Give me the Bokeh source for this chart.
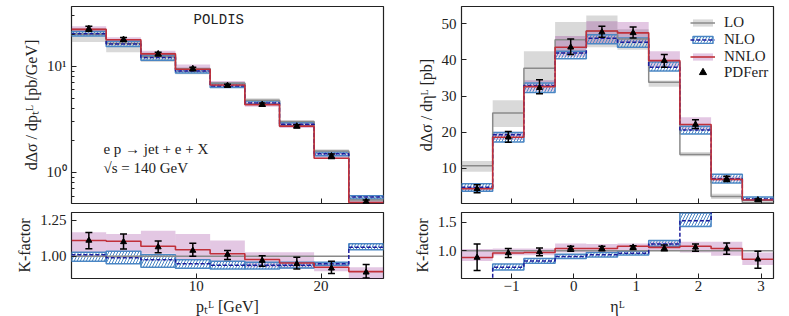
from bokeh.plotting import figure
from bokeh.layouts import row, column
from bokeh.models import (ColumnDataSource, FixedTicker, Whisker, TeeHead, Label,
                          Legend, LegendItem, Range1d, NumeralTickFormatter,
                          CustomJSTickFormatter)
from bokeh.embed import file_html
from bokeh.resources import INLINE

SERIF = "Liberation Serif"
MONO = "Liberation Mono"
INK = "#222222"
C_LO = "#8a8a8a"
C_NLO = "#4a86c4"
C_NLO_LINE = "#1c1c9c"
C_NNLO = "#c0303a"

# ---------------- pT_L distribution (left) ----------------
pt_edges = [0.0, 2.78, 5.56, 8.33, 11.11, 13.89, 16.67, 19.44, 22.22, 25.0]
pt_lo = [20.1, 16.4, 12.4, 9.5, 6.95, 4.8, 3.02, 1.59, 0.55]
pt_lo_dn = [16.9, 13.6, 11.0, 8.4, 6.3, 4.6, 2.88, 1.52, 0.52]
pt_lo_up = [23.0, 18.0, 13.5, 9.8, 7.0, 5.0, 3.1, 1.65, 0.58]
pt_nlo = [20.3, 16.2, 12.1, 9.04, 6.54, 4.52, 2.85, 1.5, 0.586]
pt_nlo_dn = [19.3, 15.4, 11.4, 8.66, 6.3, 4.4, 2.75, 1.44, 0.561]
pt_nlo_up = [21.3, 17.2, 12.7, 9.37, 6.87, 4.72, 2.95, 1.56, 0.604]
pt_nnlo = [22.3, 17.8, 13.1, 9.37, 6.67, 4.36, 2.73, 1.36, 0.522]
pt_nnlo_dn = [21.0, 16.8, 12.3, 8.86, 6.27, 4.17, 2.63, 1.35, 0.48]
pt_nnlo_up = [23.8, 18.8, 14.0, 10.4, 7.26, 4.61, 2.91, 1.53, 0.541]
pt_pdf = [22.6, 17.9, 13.1, 9.5, 6.58, 4.36, 2.73, 1.43, 0.53]
pt_pdf_dn = [21.4, 17.1, 12.5, 9.1, 6.4, 4.2, 2.63, 1.35, 0.51]
pt_pdf_up = [23.9, 18.7, 13.6, 9.8, 6.78, 4.52, 2.82, 1.49, 0.55]

# K-factors (pT_L)
pt_k_lo = [1.0, 1.0, 1.0, 1.0, 1.0, 1.0, 1.0, 1.0, 1.0]
pt_k_nlo = [1.01, 0.99, 0.975, 0.947, 0.937, 0.937, 0.937, 0.947, 1.063]
pt_k_nlo_dn = [0.965, 0.947, 0.923, 0.916, 0.912, 0.912, 0.919, 0.937, 1.045]
pt_k_nlo_up = [1.028, 1.035, 1.01, 0.975, 0.965, 0.958, 0.958, 0.958, 1.087]
pt_k_nnlo = [1.11, 1.105, 1.07, 1.045, 1.017, 0.977, 0.953, 0.923, 0.893]
pt_k_nnlo_dn = [1.028, 1.03, 1.017, 0.98, 0.958, 0.923, 0.912, 0.895, 0.80]
pt_k_nnlo_up = [1.168, 1.155, 1.178, 1.155, 1.11, 1.028, 1.028, 0.955, 0.923]
pt_k_pdf = [1.11, 1.10, 1.064, 1.04, 1.012, 0.97, 0.947, 0.916, 0.888]
pt_k_pdf_dn = [1.052, 1.05, 1.024, 1.0, 0.977, 0.93, 0.912, 0.88, 0.849]
pt_k_pdf_up = [1.165, 1.155, 1.106, 1.09, 1.04, 1.004, 0.993, 0.965, 0.942]

# ---------------- eta_L distribution (right) ----------------
eta_edges = [-1.8, -1.3, -0.8, -0.3, 0.2, 0.7, 1.2, 1.7, 2.2, 2.7, 3.2]
eta_lo = [10.7, 25.3, 37.7, 45.6, 48.0, 45.8, 33.8, 13.8, 2.2, 0.5]
eta_lo_dn = [9.0, 21.4, 33.8, 41.7, 43.5, 42.8, 32.6, 13.3, 1.5, 0.3]
eta_lo_up = [12.0, 28.8, 42.4, 50.5, 52.3, 48.5, 34.3, 14.5, 2.9, 0.8]
eta_nlo = [4.7, 19.3, 32.9, 41.9, 46.0, 44.9, 38.0, 20.6, 7.1, 1.5]
eta_nlo_dn = [3.65, 17.3, 31.0, 40.3, 44.5, 43.5, 36.9, 19.5, 5.9, 1.1]
eta_nlo_up = [5.7, 19.9, 33.6, 42.4, 47.0, 46.1, 39.4, 21.6, 8.3, 2.0]
eta_nnlo = [4.3, 18.6, 32.6, 43.5, 48.0, 47.5, 39.8, 22.1, 6.9, 1.2]
eta_nnlo_dn = [3.85, 17.8, 31.3, 40.8, 44.6, 45.0, 38.0, 20.6, 6.4, 1.0]
eta_nnlo_up = [4.85, 20.1, 34.4, 46.6, 50.7, 50.5, 42.4, 24.1, 7.8, 1.45]
eta_pdf = [4.3, 18.6, 32.3, 43.5, 47.7, 47.5, 39.8, 22.1, 7.1, 1.2]
eta_pdf_dn = [3.2, 17.2, 30.6, 41.5, 46.3, 46.1, 38.0, 21.0, 6.3, 0.9]
eta_pdf_up = [5.4, 20.2, 34.5, 45.8, 49.3, 49.1, 41.5, 23.4, 7.8, 1.5]

# K-factors (eta_L)
eta_k_lo = [1.0, 1.0, 1.0, 1.0, 1.0, 1.0, 1.0, 1.0, 1.0, 1.0]
eta_k_nlo = [0.44, 0.71, 0.82, 0.90, 0.93, 0.955, 1.12, 1.53, 3.2, 3.0]
eta_k_nlo_dn = [0.40, 0.66, 0.78, 0.865, 0.89, 0.925, 1.08, 1.43, 2.9, 2.6]
eta_k_nlo_up = [0.48, 0.765, 0.865, 0.94, 0.97, 0.99, 1.18, 1.665, 3.5, 3.4]
eta_k_nnlo = [0.88, 0.96, 0.97, 1.04, 1.04, 1.08, 1.06, 1.08, 1.04, 0.85]
eta_k_nnlo_dn = [0.82, 0.92, 0.92, 0.97, 0.98, 1.0, 1.0, 0.97, 0.91, 0.75]
eta_k_nnlo_up = [1.03, 1.04, 1.04, 1.13, 1.12, 1.13, 1.16, 1.16, 1.16, 0.97]
eta_k_pdf = [0.88, 0.96, 0.98, 1.04, 1.04, 1.06, 1.04, 1.06, 1.04, 0.85]
eta_k_pdf_dn = [0.65, 0.88, 0.91, 0.99, 1.0, 1.02, 1.0, 0.99, 0.94, 0.69]
eta_k_pdf_up = [1.12, 1.04, 1.05, 1.08, 1.08, 1.09, 1.1, 1.12, 1.135, 0.99]


def centers(edges):
    return [(a + b) / 2 for a, b in zip(edges[:-1], edges[1:])]


def make_fig(xr, yr, fh, borders, y_axis_type="linear"):
    p = figure(frame_width=312, frame_height=fh, x_range=xr, y_range=yr,
               y_axis_type=y_axis_type, output_backend="svg", toolbar_location=None,
               min_border_left=borders[0], min_border_right=borders[1],
               min_border_top=borders[2], min_border_bottom=borders[3])
    p.grid.visible = False
    p.outline_line_color = INK
    p.outline_line_width = 1.2
    p.background_fill_color = "white"
    for ax in p.axis:
        ax.axis_line_color = None
        ax.major_tick_in = 5
        ax.major_tick_out = 0
        ax.minor_tick_in = 3
        ax.minor_tick_out = 0
        ax.major_tick_line_color = INK
        ax.minor_tick_line_color = INK
        ax.major_label_text_font = SERIF
        ax.major_label_text_font_size = "15px"
        ax.major_label_text_color = INK
        ax.major_label_standoff = 5
        ax.axis_label_text_font = SERIF
        ax.axis_label_text_font_size = "16px"
        ax.axis_label_text_font_style = "normal"
        ax.axis_label_text_color = INK
        ax.axis_label_standoff = 4
    return p


def hide_xlabels(p):
    p.xaxis.major_label_text_font_size = "0px"
    p.xaxis.major_label_text_color = None
    p.xaxis.major_label_standoff = 0


def bottom_xaxis(p, label):
    p.xaxis.axis_label = label
    p.xaxis.major_label_standoff = 2
    p.xaxis.axis_label_standoff = 4


def draw_set(p, edges, lo, lo_dn, lo_up, nlo, nlo_dn, nlo_up, nnlo, nnlo_dn, nnlo_up,
             pdf, pdf_dn, pdf_up, with_lo_band=True):
    left, right = edges[:-1], edges[1:]
    out = {}
    if with_lo_band:
        out["lo_band"] = p.quad(left=left, right=right, bottom=lo_dn, top=lo_up,
                                fill_color="#808080", fill_alpha=0.3, line_color=None)
    out["nnlo_band"] = p.quad(left=left, right=right, bottom=nnlo_dn, top=nnlo_up,
                              fill_color="purple", fill_alpha=0.22, line_color=None)
    out["nlo_band"] = p.quad(left=left, right=right, bottom=nlo_dn, top=nlo_up,
                             fill_color=None, hatch_pattern="/", hatch_color=C_NLO,
                             hatch_scale=6, hatch_weight=1.0,
                             line_color=C_NLO, line_width=1.5)
    out["lo"] = p.step(x=edges, y=lo + [lo[-1]], mode="after", line_color=C_LO, line_width=1.5)
    out["nlo"] = p.step(x=edges, y=nlo + [nlo[-1]], mode="after", line_color=C_NLO_LINE,
                        line_width=1.5, line_dash="4 2")
    out["nnlo"] = p.step(x=edges, y=nnlo + [nnlo[-1]], mode="after", line_color=C_NNLO,
                         line_width=1.6)
    src = ColumnDataSource(dict(x=centers(edges), y=pdf, lo=pdf_dn, hi=pdf_up))
    wk = Whisker(source=src, base="x", upper="hi", lower="lo", line_color="black",
                 line_width=1.5, level="annotation",
                 upper_head=TeeHead(size=7, line_color="black", line_width=1.5),
                 lower_head=TeeHead(size=7, line_color="black", line_width=1.5))
    p.add_layout(wk)
    out["pdf"] = p.scatter("x", "y", source=src, marker="triangle", size=6,
                           color="black")
    return out


TOP_H, BOT_H = 197, 66

pt_xr = Range1d(0, 25)
eta_xr = Range1d(-1.8, 3.2)

# ---- left top ----
lt = make_fig(pt_xr, Range1d(0.51, 36.6), TOP_H, (71, 7, 6, 9), y_axis_type="log")
lt.xaxis.ticker = FixedTicker(ticks=[10, 20], minor_ticks=[])
hide_xlabels(lt)
lt.yaxis.ticker = FixedTicker(ticks=[1, 10],
                              minor_ticks=[0.6, 0.7, 0.8, 0.9, 2, 3, 4, 5, 6, 7, 8, 9, 20, 30])
lt.yaxis.formatter = CustomJSTickFormatter(
    code="const e = Math.round(Math.log10(tick)); return '10' + (e == 0 ? '\u2070' : '\u00b9');")
lt.yaxis.axis_label = "dΔσ / dpₜᴸ [pb/GeV]"
draw_set(lt, pt_edges, pt_lo, pt_lo_dn, pt_lo_up, pt_nlo, pt_nlo_dn, pt_nlo_up,
         pt_nnlo, pt_nnlo_dn, pt_nnlo_up, pt_pdf, pt_pdf_dn, pt_pdf_up)
lt.add_layout(Label(x=11.8, y=27.1, text="POLDIS", text_font=MONO, text_font_size="14px",
                    text_align="center", text_baseline="middle", text_color=INK))
lt.add_layout(Label(x=2.56, y=1.66, text="e p → jet + e + X", text_font=SERIF,
                    text_font_size="15px", text_baseline="middle", text_color=INK))
lt.add_layout(Label(x=2.56, y=1.10, text="√s = 140 GeV", text_font=SERIF,
                    text_font_size="15px", text_baseline="middle", text_color=INK))

# ---- left bottom ----
lb = make_fig(pt_xr, Range1d(0.845, 1.305), BOT_H, (71, 7, 0, 30))
lb.xaxis.ticker = FixedTicker(ticks=[10, 20], minor_ticks=[])
lb.yaxis.ticker = FixedTicker(ticks=[1.0, 1.25], minor_ticks=[])
lb.yaxis.formatter = NumeralTickFormatter(format="0.00")
lb.yaxis.axis_label = "K-factor"
bottom_xaxis(lb, "pₜᴸ [GeV]")
draw_set(lb, pt_edges, pt_k_lo, None, None, pt_k_nlo, pt_k_nlo_dn, pt_k_nlo_up,
         pt_k_nnlo, pt_k_nnlo_dn, pt_k_nnlo_up, pt_k_pdf, pt_k_pdf_dn, pt_k_pdf_up,
         with_lo_band=False)

minus_fmt = "return tick < 0 ? '\u2212' + Math.abs(tick) : '' + tick;"

# ---- right top ----
rt = make_fig(eta_xr, Range1d(0.23, 54.8), TOP_H, (71, 8, 6, 9))
rt.xaxis.ticker = FixedTicker(ticks=[-1, 0, 1, 2, 3], minor_ticks=[])
hide_xlabels(rt)
rt.yaxis.ticker = FixedTicker(ticks=[10, 20, 30, 40, 50], minor_ticks=[])
rt.yaxis.axis_label = "dΔσ / dηᴸ [pb]"
r = draw_set(rt, eta_edges, eta_lo, eta_lo_dn, eta_lo_up, eta_nlo, eta_nlo_dn, eta_nlo_up,
             eta_nnlo, eta_nnlo_dn, eta_nnlo_up, eta_pdf, eta_pdf_dn, eta_pdf_up)

leg_common = dict(border_line_color=None, background_fill_alpha=0.0, padding=0, margin=0,
                  label_text_font=SERIF, label_text_font_size="15px", label_text_color=INK,
                  glyph_width=25, label_standoff=9, spacing=0, label_height=16)
leg1 = Legend(items=[LegendItem(label="LO", renderers=[r["lo_band"], r["lo"]]),
                     LegendItem(label="NLO", renderers=[r["nlo_band"], r["nlo"]]),
                     LegendItem(label="NNLO", renderers=[r["nnlo_band"], r["nnlo"]])],
              location=(229, TOP_H - 59), glyph_height=9, **leg_common)
leg2 = Legend(items=[LegendItem(label="PDFerr", renderers=[r["pdf"]])],
              location=(229, TOP_H - 75), glyph_height=18, **leg_common)
rt.add_layout(leg1)
rt.add_layout(leg2)

# ---- right bottom ----
rb = make_fig(eta_xr, Range1d(0.51, 1.675), BOT_H, (71, 8, 0, 30))
rb.xaxis.ticker = FixedTicker(ticks=[-1, 0, 1, 2, 3], minor_ticks=[])
rb.xaxis.formatter = CustomJSTickFormatter(code=minus_fmt)
rb.yaxis.ticker = FixedTicker(ticks=[1.0, 1.5], minor_ticks=[])
rb.yaxis.formatter = NumeralTickFormatter(format="0.0")
rb.yaxis.axis_label = "K-factor"
bottom_xaxis(rb, "ηᴸ")
draw_set(rb, eta_edges, eta_k_lo, None, None, eta_k_nlo, eta_k_nlo_dn, eta_k_nlo_up,
         eta_k_nnlo, eta_k_nnlo_dn, eta_k_nnlo_up, eta_k_pdf, eta_k_pdf_dn, eta_k_pdf_up,
         with_lo_band=False)

layout = row(column(lt, lb), column(rt, rb))
open("out.html", "w").write(file_html(layout, INLINE))
